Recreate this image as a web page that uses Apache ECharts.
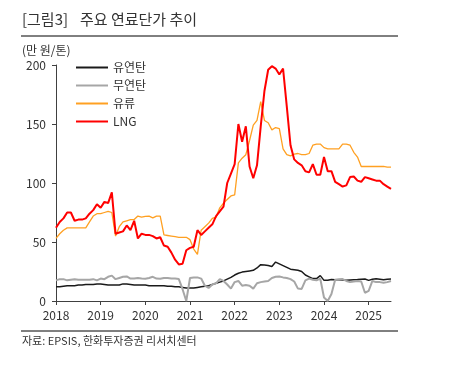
<!DOCTYPE html>
<html><head><meta charset="utf-8">
<script src="https://cdn.jsdelivr.net/npm/echarts@6/dist/echarts.min.js"></script>
<style>html,body{margin:0;padding:0;background:#fff}#c{width:460px;height:383px}</style>
</head><body><div id="c"></div>
<script>
var years = ['2018','2019','2020','2021','2022','2023','2024','2025'];
var monthsInLastYear = 7;
var yTicks = [0, 50, 100, 150, 200];
var seriesNames = ['유연탄', '무연탄', '유류', 'LNG'];

var bituminous = [12,12,12.5,13,13,13,13.5,13.5,14,14,14,14.5,
  14.5,14,13.5,13.5,13.5,13.5,14.5,14.5,14,13.5,13.5,13.5,
  13.5,13,13,13,13,13,12.5,12.5,12,12,11.5,11,
  11,11,11.5,12,12.5,13,14,15,16,17,18.5,20,
  22,23.5,24.5,25,25.5,26,28,30.8,30.5,30,29.3,33,
  31.5,30,28.5,27,26.5,26,25,22,20.5,19,19,21.5,
  17.5,17.5,18.3,18,18,17.8,17.5,17.8,18,18.2,18.5,18.6,
  17.5,18.5,18.9,18.5,18,18.5,18.6];
var anthracite = [17.5,18.5,18.5,17.5,18,18.5,18,18,18,18,18.5,17.5,
  19,18.5,20.5,21.5,18.5,19.5,20.5,20.8,19,19,19.5,19,
  18.8,19.5,20.5,19,18.8,19.5,19.5,19,19,18.6,10,0,
  19.5,20,20,19,13,11,14,15,18.6,17,14,10.5,
  16,17,13,13.5,13,10.5,15,16,16.5,17,19.5,20.5,
  20.8,20,19.5,18.5,16.5,10.5,10.2,17.5,19,18,17.5,18.9,
  3,0,6,18,18.5,18.6,17,16,16.5,17,16.5,7,
  8.5,17,16,16,15.5,16,17];
var oil = [53,57,60,62,62,62,62,62,62,67,72,74,
  74,75,76,75,55,63,67,68,69,69,72,71,
  71.7,72,70.5,72,72,56,55.5,55,54.5,54,54,54,
  52,44,39.5,60,63,66,70,71,79,83,86,89,
  90,117,121,124,136,149,153,169,153,151,145,147,
  146,129,124,123,124.5,125,124,124,125,132,133,133,
  130,129,129,129,129,133,133,132,126,122,114,114,
  114,114,114,114,114,113.5,113.5];
var lng = [62,67,70,75,75,68,69,69,70,74,77,82,
  79,84,83,92,57,58,59,64,60,68,53,57,
  56,56,55,53,54,47,46,41,35,31,31.5,43,
  45,46,60,56,59,62,65,72,76,80,100,108,
  116,150,135,148,114,104,115,148,178,196,199,197,
  192,197,165,132,120,117,115,110,109,116,107,107,
  122,110,110,101,99,97,98,105,105.5,102,101,105,
  104,103,102,102,99,97,95];

var categories = [];
years.forEach(function (y, yi) {
  var n = (yi === years.length - 1) ? monthsInLastYear : 12;
  for (var m = 1; m <= n; m++) categories.push(y + '.' + (m < 10 ? '0' + m : m));
});

var FONT = '"Noto Sans CJK KR", "Noto Sans", sans-serif';
var chart = echarts.init(document.getElementById('c'), null, {renderer: 'canvas'});
function isJan(idx) { return categories[idx] && categories[idx].slice(5) === '01'; }

chart.setOption({
  animation: false,
  backgroundColor: '#fff',
  textStyle: {fontFamily: FONT},
  grid: {left: 56, right: 69, top: 65, bottom: 82, containLabel: false},
  graphic: [
    {type: 'text', left: 22, top: 12, style: {text: '[그림3]', font: '15px ' + FONT, fill: '#333'}},
    {type: 'text', left: 80, top: 12, style: {text: '주요 연료단가 추이', font: '15px ' + FONT, fill: '#333'}},
    {type: 'line', shape: {x1: 21, y1: 36, x2: 398, y2: 36}, style: {stroke: '#000', lineWidth: 1}},
    {type: 'text', left: 22, top: 44, style: {text: '(만 원/톤)', font: '12px ' + FONT, fill: '#333'}},
    {type: 'line', shape: {x1: 21, y1: 331, x2: 398, y2: 331}, style: {stroke: '#000', lineWidth: 1}},
    {type: 'text', left: 22, top: 335, style: {text: '자료: EPSIS, 한화투자증권 리서치센터', font: '11px ' + FONT, fill: '#333'}}
  ],
  legend: {
    orient: 'vertical', left: 71, top: 54, itemWidth: 32, itemHeight: 2, itemGap: 1,
    icon: 'rect',
    textStyle: {fontSize: 12, color: '#333', fontFamily: FONT, lineHeight: 17},
    data: seriesNames
  },
  xAxis: {
    type: 'category', data: categories, boundaryGap: false,
    axisLine: {lineStyle: {color: '#404040', width: 1}},
    axisTick: {show: true, length: 4, interval: function (idx) { return isJan(idx); }, lineStyle: {color: '#404040'}},
    axisLabel: {
      interval: function (idx) { return isJan(idx); },
      formatter: function (v) { return v.slice(0, 4); },
      fontSize: 12, color: '#333', margin: 8, fontFamily: FONT
    },
    splitLine: {show: false}
  },
  yAxis: {
    type: 'value', min: yTicks[0], max: yTicks[yTicks.length - 1], interval: 50,
    axisLine: {show: true, lineStyle: {color: '#404040', width: 1}},
    axisTick: {show: true, length: 4, lineStyle: {color: '#404040'}},
    axisLabel: {fontSize: 12, color: '#333', margin: 10, fontFamily: FONT},
    splitLine: {show: false}
  },
  series: [
    {name: seriesNames[0], type: 'line', data: bituminous, symbol: 'none', lineStyle: {color: '#1a1a1a', width: 1.5}, itemStyle: {color: '#1a1a1a'}},
    {name: seriesNames[1], type: 'line', data: anthracite, symbol: 'none', lineStyle: {color: '#a6a6a6', width: 2}, itemStyle: {color: '#a6a6a6'}},
    {name: seriesNames[2], type: 'line', data: oil, symbol: 'none', lineStyle: {color: '#FFA022', width: 1.3}, itemStyle: {color: '#FFA022'}},
    {name: seriesNames[3], type: 'line', data: lng, symbol: 'none', lineStyle: {color: '#FF0000', width: 2}, itemStyle: {color: '#FF0000'}}
  ]
});
</script></body></html>
